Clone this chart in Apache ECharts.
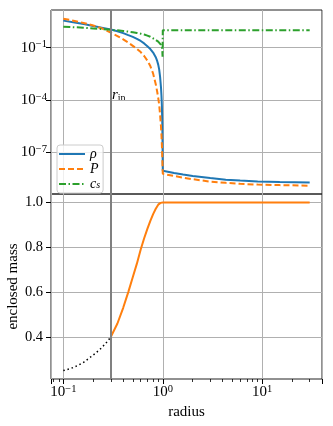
<!DOCTYPE html>
<html>
<head>
<meta charset="utf-8">
<script src="https://cdn.jsdelivr.net/npm/echarts@6/dist/echarts.min.js"></script>
<style>
html, body { margin: 0; padding: 0; background: #fff; }
#main { width: 333px; height: 426px; }
</style>
</head>
<body>
<div id="main"></div>
<script>
// profile values
var radius = [0.1, 0.13, 0.16, 0.2, 0.25, 0.3, 0.35, 0.4, 0.45, 0.5, 0.55, 0.6, 0.65, 0.7, 0.75, 0.8, 0.85, 0.88, 0.9, 0.92,
	0.94, 0.96, 0.97, 0.98, 0.99, 0.995, 1.0, 1.3, 1.6, 2, 3, 4.3, 6, 9, 15, 30];
var rho = [3.55, 2.75, 2.24, 1.76, 1.36, 1.10, 0.87, 0.68, 0.52, 0.41, 0.32, 0.24, 0.174, 0.12, 0.083, 0.052, 0.028, 0.0166, 0.0105, 5.6e-3,
	2.1e-3, 5.0e-4, 1.8e-4, 4.5e-5, 3.2e-6, 2.5e-7, 8.5e-9, 6.3e-9, 5.1e-9, 4.2e-9, 3.2e-9, 2.6e-9, 2.3e-9, 2.0e-9, 1.9e-9, 1.8e-9];
var pressure = [4.6, 3.4, 2.6, 1.86, 1.2, 0.72, 0.46, 0.30, 0.195, 0.126, 0.085, 0.055, 0.033, 0.018, 8.7e-3, 3.2e-3, 7.9e-4, 2.8e-4, 1.3e-4, 5.2e-5,
	1.4e-5, 2.8e-6, 1.0e-6, 2.5e-7, 4.0e-8, 1.3e-8, 5.6e-9, 4.2e-9, 3.4e-9, 2.75e-9, 2.0e-9, 1.7e-9, 1.5e-9, 1.35e-9, 1.26e-9, 1.17e-9];
var soundSpeed = [1.6, 1.48, 1.38, 1.26, 1.15, 1.05, 0.98, 0.9, 0.83, 0.76, 0.69, 0.63, 0.56, 0.49, 0.42, 0.34, 0.275, 0.24, 0.22, 0.195,
	0.17, 0.145, 0.13, 0.107, 0.06, 0.03, 1.0, 1.0, 1.0, 1.0, 1.0, 1.0, 1.0, 1.0, 1.0, 1.0];

// enclosed mass
var massRadius = [0.3, 0.35, 0.4, 0.45, 0.5, 0.55, 0.6, 0.65, 0.7, 0.75, 0.8, 0.85, 0.9, 0.95, 1.0, 3, 10, 30];
var mass = [0.40, 0.46, 0.53, 0.60, 0.667, 0.728, 0.79, 0.84, 0.882, 0.918, 0.948, 0.972, 0.99, 0.998, 1.0, 1.0, 1.0, 1.0];
var coreRadius = [0.1, 0.12, 0.14, 0.16, 0.185, 0.21, 0.234, 0.26, 0.28, 0.3];
var coreMass = [0.25, 0.26, 0.273, 0.287, 0.308, 0.327, 0.345, 0.366, 0.382, 0.40];

var rIn = 0.3;
var powerTicks = [-7, -4, -1];
var massTicks = [0.4, 0.6, 0.8, 1.0];
var xMin = 0.0752, xMax = 39.9;
var logMin = -9.41, logMax = 1.16;
var massMin = 0.2125, massMax = 1.0375;

var serif = '"Liberation Serif", "DejaVu Serif", serif';
var gridColor = '#b0b0b0';

function pairs(xs, ys, fn) {
	var out = [];
	for (var i = 0; i < xs.length; i++) {
		out.push([xs[i], fn ? fn(ys[i]) : ys[i]]);
	}
	return out;
}

function powLabel(exp) {
	return '{b|10}{e|' + (exp < 0 ? '\u2212' + (-exp) : exp) + '}';
}

var powRich = {
	b: { fontSize: 15, fontFamily: serif, color: '#000', lineHeight: 17 },
	e: { fontSize: 10.5, fontFamily: serif, color: '#000', verticalAlign: 'top', lineHeight: 11 }
};

var chart = echarts.init(document.getElementById('main'));

var option = {
	animation: false,
	backgroundColor: '#fff',
	grid: [
		{ left: 51, top: 10, width: 271, height: 184, show: true, borderColor: '#222', borderWidth: 1,
			backgroundColor: 'transparent', containLabel: false, outerBoundsMode: 'none' },
		{ left: 51, top: 194, width: 271, height: 185, show: true, borderColor: '#222', borderWidth: 1,
			backgroundColor: 'transparent', containLabel: false, outerBoundsMode: 'none' }
	],
	legend: {
		data: ['ρ', 'P', 'c_s'],
		orient: 'vertical',
		left: 57,
		top: 145,
		itemWidth: 26,
		itemHeight: 10,
		itemGap: 1,
		padding: [2, 3, 2, 1],
		backgroundColor: 'rgba(255,255,255,0.8)',
		borderColor: '#cccccc',
		borderWidth: 1,
		borderRadius: 3,
		itemStyle: { color: 'rgba(0,0,0,0)', borderWidth: 0, opacity: 0 },
		formatter: function (name) {
			if (name === 'c_s') {
				return '{i|c}{s|s}';
			}
			return '{i|' + name + '}';
		},
		textStyle: {
			lineHeight: 12,
			rich: {
				i: { fontSize: 14, fontStyle: 'italic', fontFamily: serif, color: '#000', lineHeight: 12 },
				s: { fontSize: 10, fontStyle: 'italic', fontFamily: serif, color: '#000', verticalAlign: 'bottom', lineHeight: 10 }
			}
		}
	},
	xAxis: [
		{
			type: 'log', gridIndex: 0, logBase: 10, min: xMin, max: xMax,
			axisLine: { show: false },
			axisTick: { show: false },
			axisLabel: { show: false },
			splitLine: { show: true, lineStyle: { color: gridColor, width: 1 } }
		},
		{
			type: 'log', gridIndex: 1, logBase: 10, min: xMin, max: xMax,
			name: 'radius', nameLocation: 'middle', nameGap: 26, nameMoveOverlap: false,
			nameTextStyle: { fontSize: 15, fontFamily: serif, color: '#000' },
			axisLine: { show: false },
			axisTick: { show: true, length: 5, lineStyle: { color: '#000', width: 1 } },
			minorTick: { show: true, splitNumber: 9, length: 3, lineStyle: { color: '#000', width: 0.8 } },
			axisLabel: {
				showMinLabel: false, showMaxLabel: false, margin: 5,
				formatter: function (v) { return powLabel(Math.round(Math.log10(v))); },
				rich: powRich
			},
			splitLine: { show: true, lineStyle: { color: gridColor, width: 1 } }
		}
	],
	yAxis: [
		{
			type: 'value', gridIndex: 0, min: logMin, max: logMax,
			axisLine: { show: false },
			axisTick: { show: true, customValues: powerTicks, length: 5, lineStyle: { color: '#000', width: 1 } },
			axisLabel: {
				customValues: powerTicks, margin: 4,
				formatter: function (v) { return powLabel(Math.round(v)); },
				rich: powRich
			},
			splitLine: { show: true, lineStyle: { color: gridColor, width: 1 } }
		},
		{
			type: 'value', gridIndex: 1, min: massMin, max: massMax,
			name: 'enclosed mass', nameLocation: 'middle', nameGap: 30, nameMoveOverlap: false,
			nameTextStyle: { fontSize: 15, fontFamily: serif, color: '#000' },
			axisLine: { show: false },
			axisTick: { show: true, customValues: massTicks, length: 5, lineStyle: { color: '#000', width: 1 } },
			axisLabel: {
				customValues: massTicks, margin: 8,
				fontSize: 14.5, fontFamily: serif, color: '#000',
				formatter: function (v) { return v.toFixed(1); }
			},
			splitLine: { show: true, lineStyle: { color: gridColor, width: 1 } }
		}
	],
	graphic: [
		{
			type: 'text', left: 112, top: 88, silent: true,
			style: {
				text: '{r|r}{s|in}',
				rich: {
					r: { fontSize: 15, fontStyle: 'italic', fontFamily: serif, fill: '#000' },
					s: { fontSize: 10, fontFamily: serif, fill: '#000', verticalAlign: 'bottom' }
				}
			}
		}
	],
	series: [
		{
			name: 'ρ', type: 'line', xAxisIndex: 0, yAxisIndex: 0,
			symbol: 'none', showSymbol: false,
			lineStyle: { color: '#1f77b4', width: 2 },
			itemStyle: { color: '#1f77b4' },
			data: pairs(radius, rho, Math.log10),
			markLine: {
				silent: true, symbol: ['none', 'none'], label: { show: false },
				lineStyle: { color: '#808080', width: 2, type: 'solid' },
				data: [{ xAxis: rIn }]
			}
		},
		{
			name: 'P', type: 'line', xAxisIndex: 0, yAxisIndex: 0,
			symbol: 'none', showSymbol: false,
			lineStyle: { color: '#ff7f0e', width: 2, type: [6, 3] },
			itemStyle: { color: '#ff7f0e' },
			data: pairs(radius, pressure, Math.log10)
		},
		{
			name: 'c_s', type: 'line', xAxisIndex: 0, yAxisIndex: 0,
			symbol: 'none', showSymbol: false,
			lineStyle: { color: '#2ca02c', width: 2, type: [7, 2.5, 1.5, 2.5] },
			itemStyle: { color: '#2ca02c' },
			data: pairs(radius, soundSpeed, Math.log10)
		},
		{
			name: 'core', type: 'line', xAxisIndex: 1, yAxisIndex: 1,
			symbol: 'none', showSymbol: false,
			lineStyle: { color: '#000', width: 1.5, type: [1.5, 2.8] },
			data: pairs(coreRadius, coreMass),
			markLine: {
				silent: true, symbol: ['none', 'none'], label: { show: false },
				lineStyle: { color: '#808080', width: 2, type: 'solid' },
				data: [{ xAxis: rIn }, { yAxis: massMax }]
			}
		},
		{
			name: 'mass', type: 'line', xAxisIndex: 1, yAxisIndex: 1,
			symbol: 'none', showSymbol: false,
			lineStyle: { color: '#ff7f0e', width: 2 },
			data: pairs(massRadius, mass)
		}
	]
};

chart.setOption(option);
</script>
</body>
</html>
